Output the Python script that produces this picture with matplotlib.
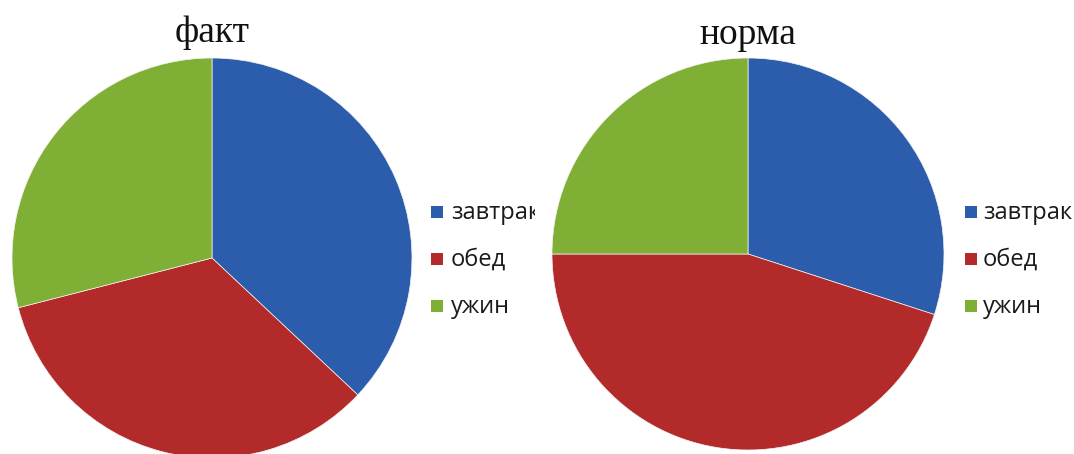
import matplotlib
matplotlib.use("Agg")
import matplotlib.pyplot as plt
from matplotlib.patches import Rectangle

# Meal shares, percent of daily intake
meals = ["завтрак", "обед", "ужин"]
fact_share = [37, 34, 29]
norm_share = [30, 45, 25]
titles = ["факт", "норма"]
meal_colors = ["#2C5DAD", "#B22A2A", "#7FAF34"]

W, H = 1074, 454
fig = plt.figure(figsize=(W / 100, H / 100), dpi=100)
fig.patch.set_facecolor("white")


def px_axes(x0, y0, w, h):
    """Axes placed by pixel box (top-left origin)."""
    return fig.add_axes([x0 / W, (H - y0 - h) / H, w / W, h / H])


def draw_pie(cx, cy, r, shares, title, title_y):
    ax = px_axes(cx - r, cy - r, 2 * r, 2 * r)
    ax.pie(shares, colors=meal_colors, startangle=90, counterclock=False,
           radius=1, wedgeprops=dict(edgecolor="#f4f4f4", linewidth=0.5))
    ax.set_aspect("auto")
    ax.set_xlim(-1, 1)
    ax.set_ylim(-1, 1)
    ax.axis("off")
    fig.text(cx / W, 1 - title_y / H, title, ha="center", va="baseline",
             fontsize=27, family="Liberation Serif", color="#111111")
    return ax


def draw_legend(x0, x1, rows_y, sq_x, txt_x):
    lax = px_axes(x0, 180, x1 - x0, 150)
    lax.set_xlim(x0, x1)
    lax.set_ylim(330, 180)
    lax.axis("off")
    for name, col, y in zip(meals, meal_colors, rows_y):
        lax.add_patch(Rectangle((sq_x, y - 6), 12, 12, facecolor=col,
                                edgecolor="none"))
        lax.text(txt_x, y + 1, name, va="center", ha="left", fontsize=17,
                 family="Open Sans", color="#1a1a1a", clip_on=True)


draw_pie(212, 258, 200, fact_share, titles[0], 42)
draw_pie(748, 254, 196, norm_share, titles[1], 44)

# the left legend box is narrower than its text, so the first label is cut
draw_legend(425, 535, [212, 259, 306], 431, 451)
draw_legend(955, 1074, [212, 259, 306], 965, 983)

fig.savefig("out.png", dpi=100, facecolor="white")
